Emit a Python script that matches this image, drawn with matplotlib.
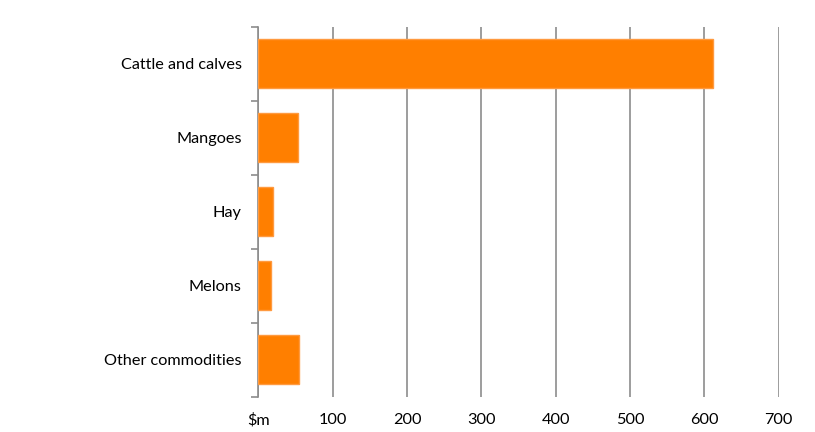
import matplotlib.pyplot as plt

categories = ["Cattle and calves", "Mangoes", "Hay", "Melons", "Other commodities"]
values = [612, 53, 20, 17, 55]
xticks = [0, 100, 200, 300, 400, 500, 600, 700]
xtick_labels = ["$m", "100", "200", "300", "400", "500", "600", "700"]

plt.rcParams["font.family"] = ["Lato", "DejaVu Sans"]

fig = plt.figure(figsize=(8.15, 4.32), dpi=100)
ax = fig.add_axes([258.3 / 815, 1 - 396.7 / 432, (778.5 - 258.3) / 815, (396.7 - 26.7) / 432])

pos = list(range(len(categories)))
ax.barh(pos, values, height=0.67, color="#ff7f00", edgecolor="#ff9a40", linewidth=1, zorder=3)
ax.set_ylim(len(categories) - 0.5, -0.5)
ax.set_xlim(0, 700)

ax.set_xticks(xticks)
ax.set_xticklabels(xtick_labels, fontsize=11.7)
ax.tick_params(axis="x", length=0, pad=12)
ax.xaxis.grid(True, color="#8c8c8c", linewidth=1.2, zorder=0)

# category labels between boundary ticks
ax.set_yticks(pos)
ax.set_yticklabels(categories, fontsize=11.7)
ax.tick_params(axis="y", which="major", length=0, pad=12)
ax.set_yticks([p - 0.5 for p in pos] + [len(categories) - 0.5], minor=True)
ax.tick_params(axis="y", which="minor", length=5, color="#8c8c8c", width=1.2)

for s in ["top", "right", "bottom"]:
    ax.spines[s].set_visible(False)
ax.spines["left"].set_color("#8c8c8c")
ax.spines["left"].set_linewidth(1.2)

fig.savefig("out.png", dpi=100)
